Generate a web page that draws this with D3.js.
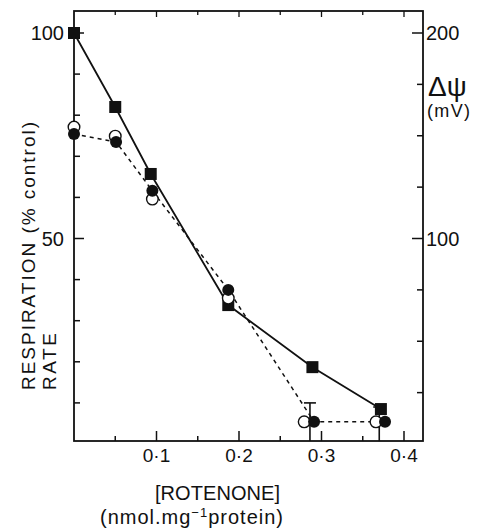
<!DOCTYPE html>
<html>
<head>
<meta charset="utf-8">
<script src="https://cdn.jsdelivr.net/npm/d3@7"></script>
<style>
  body { margin: 0; background: #fff; }
  svg text { font-family: 'Liberation Sans', Arial, sans-serif; fill: #111; }
</style>
</head>
<body>
<div id="chart"></div>
<script>

var width = 479;
var height = 531;

// data
var squareX = [0, 0.05, 0.093, 0.187, 0.289, 0.372];
var squareY = [100, 82, 65.7, 33.8, 18.7, 8.5];

var filledX = [0, 0.051, 0.095, 0.187, 0.291, 0.377];
var filledY = [75.4, 73.5, 61.6, 37.5, 5.4, 5.4];

var openX = [0, 0.05, 0.095, 0.187, 0.279, 0.366];
var openY = [77.1, 74.9, 59.6, 35.5, 5.4, 5.4];

var errX = [0.286, 0.370];
var errHi = [10, 9];
var errLo = [0.7, 0.7];

var xTicks = [0.05, 0.1, 0.15, 0.2, 0.25, 0.3, 0.35, 0.4];
var xTickLabels = ['0·1', '0·2', '0·3', '0·4'];
var xLabelVals = [0.1, 0.2, 0.3, 0.4];
var leftTicks = [10, 20, 30, 40, 50, 60, 70, 80, 90, 100];
var leftLabels = [50, 100];
var rightTicks = [25, 50, 75, 100, 125, 150, 175, 200];
var rightLabels = [100, 200];

var plotLeft = 74, plotRight = 423, plotTop = 11, plotBottom = 441;

var svg = d3.select('#chart')
  .append('svg')
  .attr('width', width)
  .attr('height', height);

var x = d3.scaleLinear().domain([0, 0.4]).range([74, 404]);
var y = d3.scaleLinear().domain([0, 100]).range([444, 33]);
var yR = d3.scaleLinear().domain([0, 200]).range([444, 33]);

function isMajor(d) {
  return xLabelVals.some(function(v) { return Math.abs(v - d) < 1e-6; });
}

// frame
svg.append('rect')
  .attr('x', plotLeft).attr('y', plotTop)
  .attr('width', plotRight - plotLeft).attr('height', plotBottom - plotTop)
  .attr('fill', 'none').attr('stroke', '#111').attr('stroke-width', 1.8);

// bottom ticks (inward)
svg.append('g').selectAll('line')
  .data(xTicks).enter().append('line')
  .attr('x1', function(d) { return x(d); }).attr('x2', function(d) { return x(d); })
  .attr('y1', plotBottom)
  .attr('y2', function(d) { return isMajor(d) ? plotBottom - 10 : plotBottom - 5; })
  .attr('stroke', '#111').attr('stroke-width', 1.5);

// top ticks (inward)
svg.append('g').selectAll('line')
  .data(xTicks).enter().append('line')
  .attr('x1', function(d) { return x(d); }).attr('x2', function(d) { return x(d); })
  .attr('y1', plotTop)
  .attr('y2', function(d) { return isMajor(d) ? plotTop + 6 : plotTop + 4; })
  .attr('stroke', '#111').attr('stroke-width', 1.3);

// x tick labels
svg.append('g').selectAll('text')
  .data(xLabelVals).enter().append('text')
  .attr('x', function(d) { return x(d); })
  .attr('y', 462)
  .attr('text-anchor', 'middle')
  .style('font-size', '19px')
  .text(function(d, i) { return xTickLabels[i]; });

// left ticks
svg.append('g').selectAll('line')
  .data(leftTicks).enter().append('line')
  .attr('x1', plotLeft)
  .attr('x2', function(d) { return leftLabels.indexOf(d) >= 0 ? plotLeft + 10 : plotLeft + 6; })
  .attr('y1', function(d) { return y(d); }).attr('y2', function(d) { return y(d); })
  .attr('stroke', '#111').attr('stroke-width', 1.5);

svg.append('g').selectAll('text')
  .data(leftLabels).enter().append('text')
  .attr('x', 64)
  .attr('y', function(d) { return y(d) + 7; })
  .attr('text-anchor', 'end')
  .style('font-size', '20px')
  .text(function(d) { return d; });

// right ticks
svg.append('g').selectAll('line')
  .data(rightTicks).enter().append('line')
  .attr('x1', plotRight)
  .attr('x2', function(d) { return rightLabels.indexOf(d) >= 0 ? plotRight - 11 : plotRight - 6; })
  .attr('y1', function(d) { return yR(d); }).attr('y2', function(d) { return yR(d); })
  .attr('stroke', '#111').attr('stroke-width', 1.5);

svg.append('g').selectAll('text')
  .data(rightLabels).enter().append('text')
  .attr('x', 426)
  .attr('y', function(d) { return yR(d) + 7; })
  .attr('text-anchor', 'start')
  .style('font-size', '20px')
  .text(function(d) { return d; });

// right axis title
svg.append('text')
  .attr('x', 428).attr('y', 96)
  .style('font-size', '28px')
  .text('Δψ');
svg.append('text')
  .attr('x', 427).attr('y', 117)
  .attr('textLength', 43).attr('lengthAdjust', 'spacing')
  .style('font-size', '18px')
  .text('(mV)');

// left axis title
svg.append('text')
  .attr('transform', 'translate(35,390) rotate(-90)')
  .attr('textLength', 268).attr('lengthAdjust', 'spacing')
  .style('font-size', '19px')
  .text('RESPIRATION (% control)');
svg.append('text')
  .attr('transform', 'translate(56,390) rotate(-90)')
  .attr('textLength', 57).attr('lengthAdjust', 'spacing')
  .style('font-size', '19px')
  .text('RATE');

// x axis title
svg.append('text')
  .attr('x', 155).attr('y', 500)
  .attr('textLength', 125).attr('lengthAdjust', 'spacing')
  .style('font-size', '20px')
  .text('[ROTENONE]');
var sub = svg.append('text')
  .attr('x', 100).attr('y', 524)
  .attr('textLength', 183).attr('lengthAdjust', 'spacing')
  .style('font-size', '20px');
sub.append('tspan').text('(nmol.mg');
sub.append('tspan').attr('dy', -7).style('font-size', '13px').text('−1');
sub.append('tspan').attr('dy', 7).text('protein)');

// error bars
var errG = svg.append('g');
errX.forEach(function(v, i) {
  errG.append('line')
    .attr('x1', x(v)).attr('x2', x(v))
    .attr('y1', y(errHi[i])).attr('y2', y(errLo[i]))
    .attr('stroke', '#111').attr('stroke-width', 1.6);
  errG.append('line')
    .attr('x1', x(v) - 6).attr('x2', x(v) + 6)
    .attr('y1', y(errHi[i])).attr('y2', y(errHi[i]))
    .attr('stroke', '#111').attr('stroke-width', 1.6);
});

// lines
var squareData = squareX.map(function(d, i) { return [d, squareY[i]]; });
var filledData = filledX.map(function(d, i) { return [d, filledY[i]]; });
var openData = openX.map(function(d, i) { return [d, openY[i]]; });

var line = d3.line()
  .x(function(d) { return x(d[0]); })
  .y(function(d) { return y(d[1]); });

svg.append('path')
  .datum(squareData)
  .attr('fill', 'none').attr('stroke', '#111').attr('stroke-width', 1.8)
  .attr('d', line);

svg.append('path')
  .datum(filledData)
  .attr('fill', 'none').attr('stroke', '#111').attr('stroke-width', 1.5)
  .attr('stroke-dasharray', '4,4')
  .attr('d', line);

// markers
svg.selectAll('.sq')
  .data(squareData).enter().append('rect')
  .attr('class', 'sq')
  .attr('x', function(d) { return x(d[0]) - 6; })
  .attr('y', function(d) { return y(d[1]) - 6; })
  .attr('width', 12).attr('height', 12)
  .attr('fill', '#111');

svg.selectAll('.oc')
  .data(openData).enter().append('circle')
  .attr('class', 'oc')
  .attr('cx', function(d) { return x(d[0]); })
  .attr('cy', function(d) { return y(d[1]); })
  .attr('r', 5.8)
  .attr('fill', '#fff').attr('stroke', '#111').attr('stroke-width', 1.4);

svg.selectAll('.fc')
  .data(filledData).enter().append('circle')
  .attr('class', 'fc')
  .attr('cx', function(d) { return x(d[0]); })
  .attr('cy', function(d) { return y(d[1]); })
  .attr('r', 6)
  .attr('fill', '#111');

</script>
</body>
</html>
